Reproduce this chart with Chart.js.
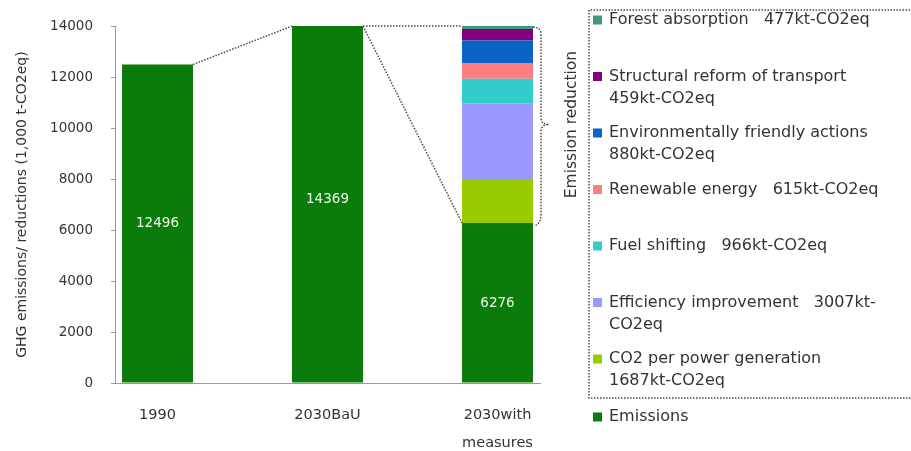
<!DOCTYPE html>
<html>
<head>
<meta charset="utf-8">
<script src="https://cdn.jsdelivr.net/npm/chart.js@4.4.1/dist/chart.umd.min.js"></script>
<style>
  html, body { margin: 0; padding: 0; background: #ffffff; }
  #wrap { width: 911px; height: 451px; position: relative; }
</style>
</head>
<body>
<div id="wrap"><canvas id="chart" width="911" height="451"></canvas></div>
<script>
// Categories on the horizontal axis
const categories = ['1990', '2030BaU', ['2030with', 'measures']];
// Emissions per scenario (1,000 t-CO2eq)
const emissions = [12496, 14369, 6276];
// Reduction measures stacked on top of the 2030 emissions, bottom to top
const reductionNames = [
  'CO2 per power generation',
  'Efficiency improvement',
  'Fuel shifting',
  'Renewable energy',
  'Environmentally friendly actions',
  'Structural reform of transport',
  'Forest absorption'
];
const reductionValues = [1687, 3007, 966, 615, 880, 459, 477];
const reductionColors = ['#99cc00', '#9999ff', '#33cccc', '#ff7c80', '#0a64c8', '#800080', '#3f9a7c'];
const emissionColor = '#0b7b0b';
// Vertical axis ticks
const yTicks = [0, 2000, 4000, 6000, 8000, 10000, 12000, 14000];

const FONT = 'DejaVu Sans';
const TEXT = '#333333';
const unit = 'kt-CO2eq';

// Legend rows, top to bottom (reverse of stacking order)
const legendRows = [
  { color: reductionColors[6], lines: [`${reductionNames[6]}   ${reductionValues[6]}${unit}`] },
  { color: reductionColors[5], lines: [reductionNames[5], `${reductionValues[5]}${unit}`] },
  { color: reductionColors[4], lines: [reductionNames[4], `${reductionValues[4]}${unit}`] },
  { color: reductionColors[3], lines: [`${reductionNames[3]}   ${reductionValues[3]}${unit}`] },
  { color: reductionColors[2], lines: [`${reductionNames[2]}   ${reductionValues[2]}${unit}`] },
  { color: reductionColors[1], lines: [`${reductionNames[1]}   ${reductionValues[1]}kt-`, 'CO2eq'] },
  { color: reductionColors[0], lines: [reductionNames[0], `${reductionValues[0]}${unit}`] }
];
const emissionsLegend = 'Emissions';

const datasets = [
  {
    label: 'Emissions',
    data: emissions.map((v, i) => ({ x: i, y: v })),
    backgroundColor: emissionColor
  },
  ...reductionValues.map((v, k) => ({
    label: reductionNames[k],
    data: [{ x: 2, y: v }],
    backgroundColor: reductionColors[k]
  }))
];

// Value labels in the middle of each emissions bar
const valueLabels = {
  id: 'valueLabels',
  afterDatasetsDraw(chart) {
    const { ctx, scales: { y } } = chart;
    const meta = chart.getDatasetMeta(0);
    ctx.save();
    ctx.font = `13.5px "${FONT}"`;
    ctx.fillStyle = '#eef8ea';
    ctx.textAlign = 'center';
    ctx.textBaseline = 'middle';
    meta.data.forEach((el, i) => {
      ctx.fillText(String(emissions[i]), el.x, y.getPixelForValue(emissions[i] / 2));
    });
    ctx.restore();
  }
};

// Connectors between bars, brace around the reductions and the legend panel
const annotations = {
  id: 'annotations',
  afterDraw(chart) {
    const { ctx, chartArea } = chart;
    const top = chartArea.top;
    const em = chart.getDatasetMeta(0).data;
    const last = chart.getDatasetMeta(datasets.length - 1).data[0];
    const b0 = em[0], b1 = em[1], b2 = em[2];
    const half = (el) => el.width / 2;
    const stackTop = Math.max(last.y, top);
    const redBottom = b2.y;

    ctx.save();
    ctx.strokeStyle = '#4a4a4a';
    ctx.lineWidth = 1.5;
    ctx.setLineDash([1.5, 1.5]);

    ctx.beginPath();
    ctx.moveTo(b0.x + half(b0), b0.y);
    ctx.lineTo(b1.x - half(b1), Math.max(b1.y, top));
    ctx.moveTo(b1.x + half(b1), Math.max(b1.y, top));
    ctx.lineTo(b2.x - half(b2), stackTop);
    ctx.moveTo(b1.x + half(b1), Math.max(b1.y, top));
    ctx.lineTo(b2.x - half(b2), redBottom);
    ctx.stroke();

    // curly brace
    const bx = b2.x + half(b2);
    const vx = bx + 8;
    const tipX = bx + 16;
    const midY = (stackTop + redBottom) / 2;
    ctx.beginPath();
    ctx.moveTo(bx, stackTop + 1);
    ctx.quadraticCurveTo(vx, stackTop + 1, vx, stackTop + 9);
    ctx.lineTo(vx, midY - 7);
    ctx.quadraticCurveTo(vx, midY, tipX, midY);
    ctx.quadraticCurveTo(vx, midY, vx, midY + 7);
    ctx.lineTo(vx, redBottom - 9);
    ctx.quadraticCurveTo(vx, redBottom + 1, bx + 1, redBottom + 3);
    ctx.stroke();

    // legend frame
    const boxL = 589, boxT = 10, boxB = 398;
    ctx.beginPath();
    ctx.moveTo(chart.width + 5, boxT);
    ctx.lineTo(boxL, boxT);
    ctx.lineTo(boxL, boxB);
    ctx.lineTo(chart.width + 5, boxB);
    ctx.stroke();
    ctx.setLineDash([]);

    // brace caption
    ctx.fillStyle = TEXT;
    ctx.font = `15.5px "${FONT}"`;
    ctx.textAlign = 'center';
    ctx.textBaseline = 'middle';
    ctx.save();
    ctx.translate(572, midY);
    ctx.rotate(-Math.PI / 2);
    ctx.fillText('Emission reduction', 0, 0);
    ctx.restore();

    // legend entries
    ctx.textAlign = 'left';
    ctx.font = `16px "${FONT}"`;
    const rowStart = 20, rowStep = 56.5, lineStep = 22;
    legendRows.forEach((row, r) => {
      const y0 = rowStart + r * rowStep;
      ctx.fillStyle = row.color;
      ctx.fillRect(593, y0 - 4.5, 9, 9);
      ctx.fillStyle = TEXT;
      row.lines.forEach((t, j) => ctx.fillText(t, 609, y0 + j * lineStep));
    });
    ctx.fillStyle = emissionColor;
    ctx.fillRect(593, 417 - 4.5, 9, 9);
    ctx.fillStyle = TEXT;
    ctx.fillText(emissionsLegend, 609, 417);
    ctx.restore();
  }
};

new Chart(document.getElementById('chart'), {
  type: 'bar',
  data: { datasets },
  options: {
    responsive: false,
    animation: false,
    devicePixelRatio: 1,
    layout: { padding: { left: 0, right: 371, top: 26, bottom: 0 } },
    datasets: { bar: { barPercentage: 0.4176, categoryPercentage: 1 } },
    plugins: { legend: { display: false }, tooltip: { enabled: false } },
    scales: {
      x: {
        type: 'linear',
        min: -0.25,
        max: 2.25,
        stacked: true,
        offset: false,
        grid: { display: false },
        border: { display: true, color: '#9a9a9a', width: 1 },
        ticks: {
          stepSize: 1,
          includeBounds: false,
          autoSkip: false,
          maxRotation: 0,
          padding: 10,
          color: TEXT,
          font: { family: FONT, size: 14.5, lineHeight: 1.95 },
          callback: (v) => (Number.isInteger(v) && categories[v] !== undefined ? categories[v] : '')
        },
        afterFit: (s) => { s.height = 68; }
      },
      y: {
        min: 0,
        max: 14000,
        stacked: true,
        grid: { drawOnChartArea: false, drawTicks: true, tickLength: 4, color: '#9a9a9a' },
        border: { display: true, color: '#9a9a9a', width: 1 },
        ticks: {
          stepSize: 2000,
          padding: 18,
          color: TEXT,
          font: { family: FONT, size: 13.5 },
          callback: (v) => (yTicks.includes(v) ? String(v) : '')
        },
        title: {
          display: true,
          text: 'GHG emissions/ reductions (1,000 t-CO2eq)',
          color: TEXT,
          font: { family: FONT, size: 14 },
          padding: { top: 13.6, bottom: 0 }
        },
        afterFit: (s) => { s.width = 115; }
      }
    }
  },
  plugins: [valueLabels, annotations]
});
</script>
</body>
</html>
